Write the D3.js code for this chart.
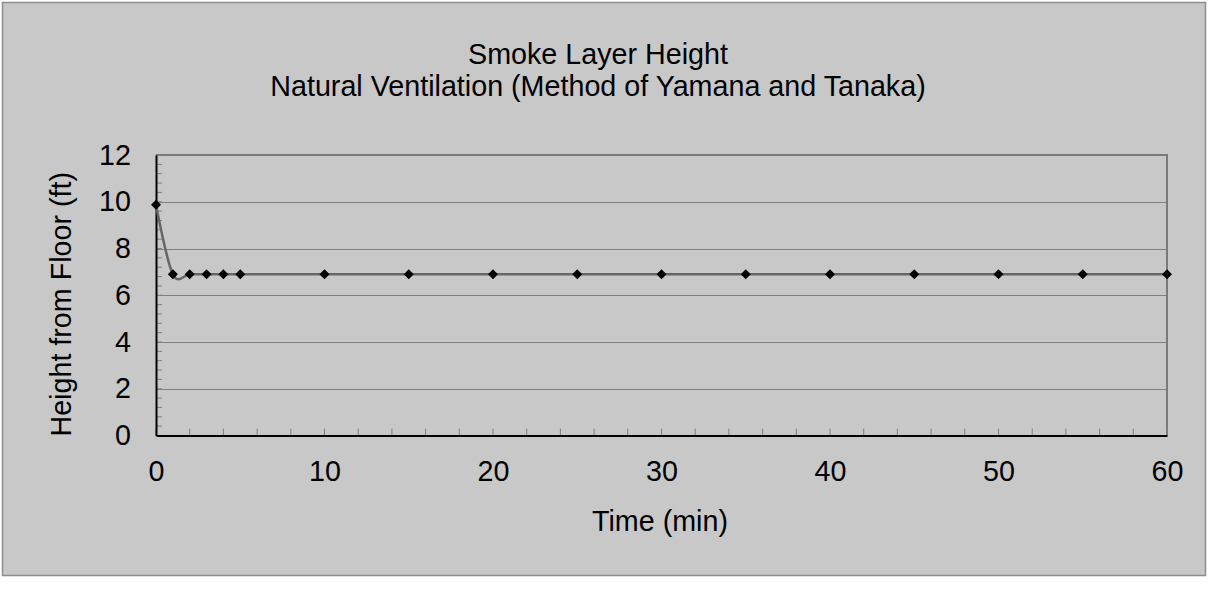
<!DOCTYPE html>
<html><head><meta charset="utf-8">
<script src="https://cdn.jsdelivr.net/npm/d3@7"></script>
<style>
html,body{margin:0;padding:0;background:#ffffff;}
svg{display:block;font-family:"Liberation Sans",Arial,sans-serif;}
</style></head>
<body>
<svg id="chart" width="1209" height="601"></svg>
<script>
const titleLines = ["Smoke Layer Height", "Natural Ventilation (Method of Yamana and Tanaka)"];
const xLabel = "Time (min)";
const yLabel = "Height from Floor (ft)";
const timeMin = [0, 1, 2, 3, 4, 5, 10, 15, 20, 25, 30, 35, 40, 45, 50, 55, 60];
const heightFt = [9.87, 6.9, 6.9, 6.9, 6.9, 6.9, 6.9, 6.9, 6.9, 6.9, 6.9, 6.9, 6.9, 6.9, 6.9, 6.9, 6.9];
const xTicks = [0, 10, 20, 30, 40, 50, 60];
const yTicks = [0, 2, 4, 6, 8, 10, 12];

const FS = 28.7;
const svg = d3.select("#chart");
const plot = {left: 156, top: 155, right: 1167, bottom: 435.5};

svg.append("rect").attr("x", 2.5).attr("y", 2.5).attr("width", 1203).attr("height", 573)
  .attr("fill", "#c8c8c8").attr("stroke", "#8c8c8c").attr("stroke-width", 1.5);

const x = d3.scaleLinear().domain([0, 60]).range([plot.left, plot.right]);
const y = d3.scaleLinear().domain([0, 12]).range([plot.bottom, plot.top]);

// gridlines
svg.append("g").selectAll("line").data(yTicks.filter(d => d > 0 && d < 12)).join("line")
  .attr("x1", plot.left).attr("x2", plot.right)
  .attr("y1", d => Math.round(y(d)) + 0.5).attr("y2", d => Math.round(y(d)) + 0.5)
  .attr("stroke", "#808080").attr("stroke-width", 1);

// plot border top/right
svg.append("path")
  .attr("d", `M${plot.left},${plot.top}H${plot.right}V${plot.bottom}`)
  .attr("fill", "none").attr("stroke", "#7a7a7a").attr("stroke-width", 2);

// minor ticks
const yMinor = d3.range(0, 12.001, 0.4);
svg.append("g").selectAll("line").data(yMinor).join("line")
  .attr("x1", plot.left).attr("x2", plot.left + 6)
  .attr("y1", d => y(d)).attr("y2", d => y(d))
  .attr("stroke", "#808080").attr("stroke-width", 1);
const xMinor = d3.range(0, 60.001, 2);
svg.append("g").selectAll("line").data(xMinor).join("line")
  .attr("x1", d => x(d)).attr("x2", d => x(d))
  .attr("y1", plot.bottom).attr("y2", plot.bottom - 7)
  .attr("stroke", "#808080").attr("stroke-width", 1);

// axes
const xAxis = d3.axisBottom(x).tickValues(xTicks).tickSize(0).tickPadding(25).tickFormat(d3.format("d"));
const gx = svg.append("g").attr("transform", `translate(0,${plot.bottom})`).call(xAxis);
gx.select(".domain").attr("stroke", "#000").attr("stroke-width", 2);
gx.selectAll("text").attr("font-size", FS).attr("fill", "#000").attr("font-family", "'Liberation Sans',Arial,sans-serif");

const yAxis = d3.axisLeft(y).tickValues(yTicks).tickSize(0).tickPadding(25).tickFormat(d3.format("d"));
const gy = svg.append("g").attr("transform", `translate(${plot.left},0)`).call(yAxis);
gy.select(".domain").attr("stroke", "#000").attr("stroke-width", 2);
gy.selectAll("text").attr("font-size", FS).attr("fill", "#000").attr("font-family", "'Liberation Sans',Arial,sans-serif");

// line
const pts = timeMin.map((t, i) => [t, heightFt[i]]);
svg.append("path").datum(pts)
  .attr("d", d3.line().x(d => x(d[0])).y(d => y(d[1])).curve(d3.curveCatmullRom.alpha(0)))
  .attr("fill", "none").attr("stroke", "#666666").attr("stroke-width", 2.5);

// markers
svg.append("g").selectAll("path").data(pts).join("path")
  .attr("transform", d => `translate(${x(d[0])},${y(d[1])})`)
  .attr("d", d3.symbol().type(d3.symbolDiamond2).size(64))
  .attr("fill", "#000");

// titles
const tg = svg.append("g").attr("font-size", FS).attr("fill", "#000").attr("text-anchor", "middle");
tg.selectAll("text").data(titleLines).join("text")
  .attr("x", 598).attr("y", (d, i) => 64 + i * 31.5).text(d => d);

svg.append("text").attr("x", 660).attr("y", 531).attr("text-anchor", "middle")
  .attr("font-size", FS).attr("fill", "#000").text(xLabel);

svg.append("text").attr("transform", `translate(71,${(plot.top + plot.bottom) / 2 + 9}) rotate(-90)`)
  .attr("text-anchor", "middle").attr("font-size", FS).attr("fill", "#000").text(yLabel);
</script>
</body></html>
